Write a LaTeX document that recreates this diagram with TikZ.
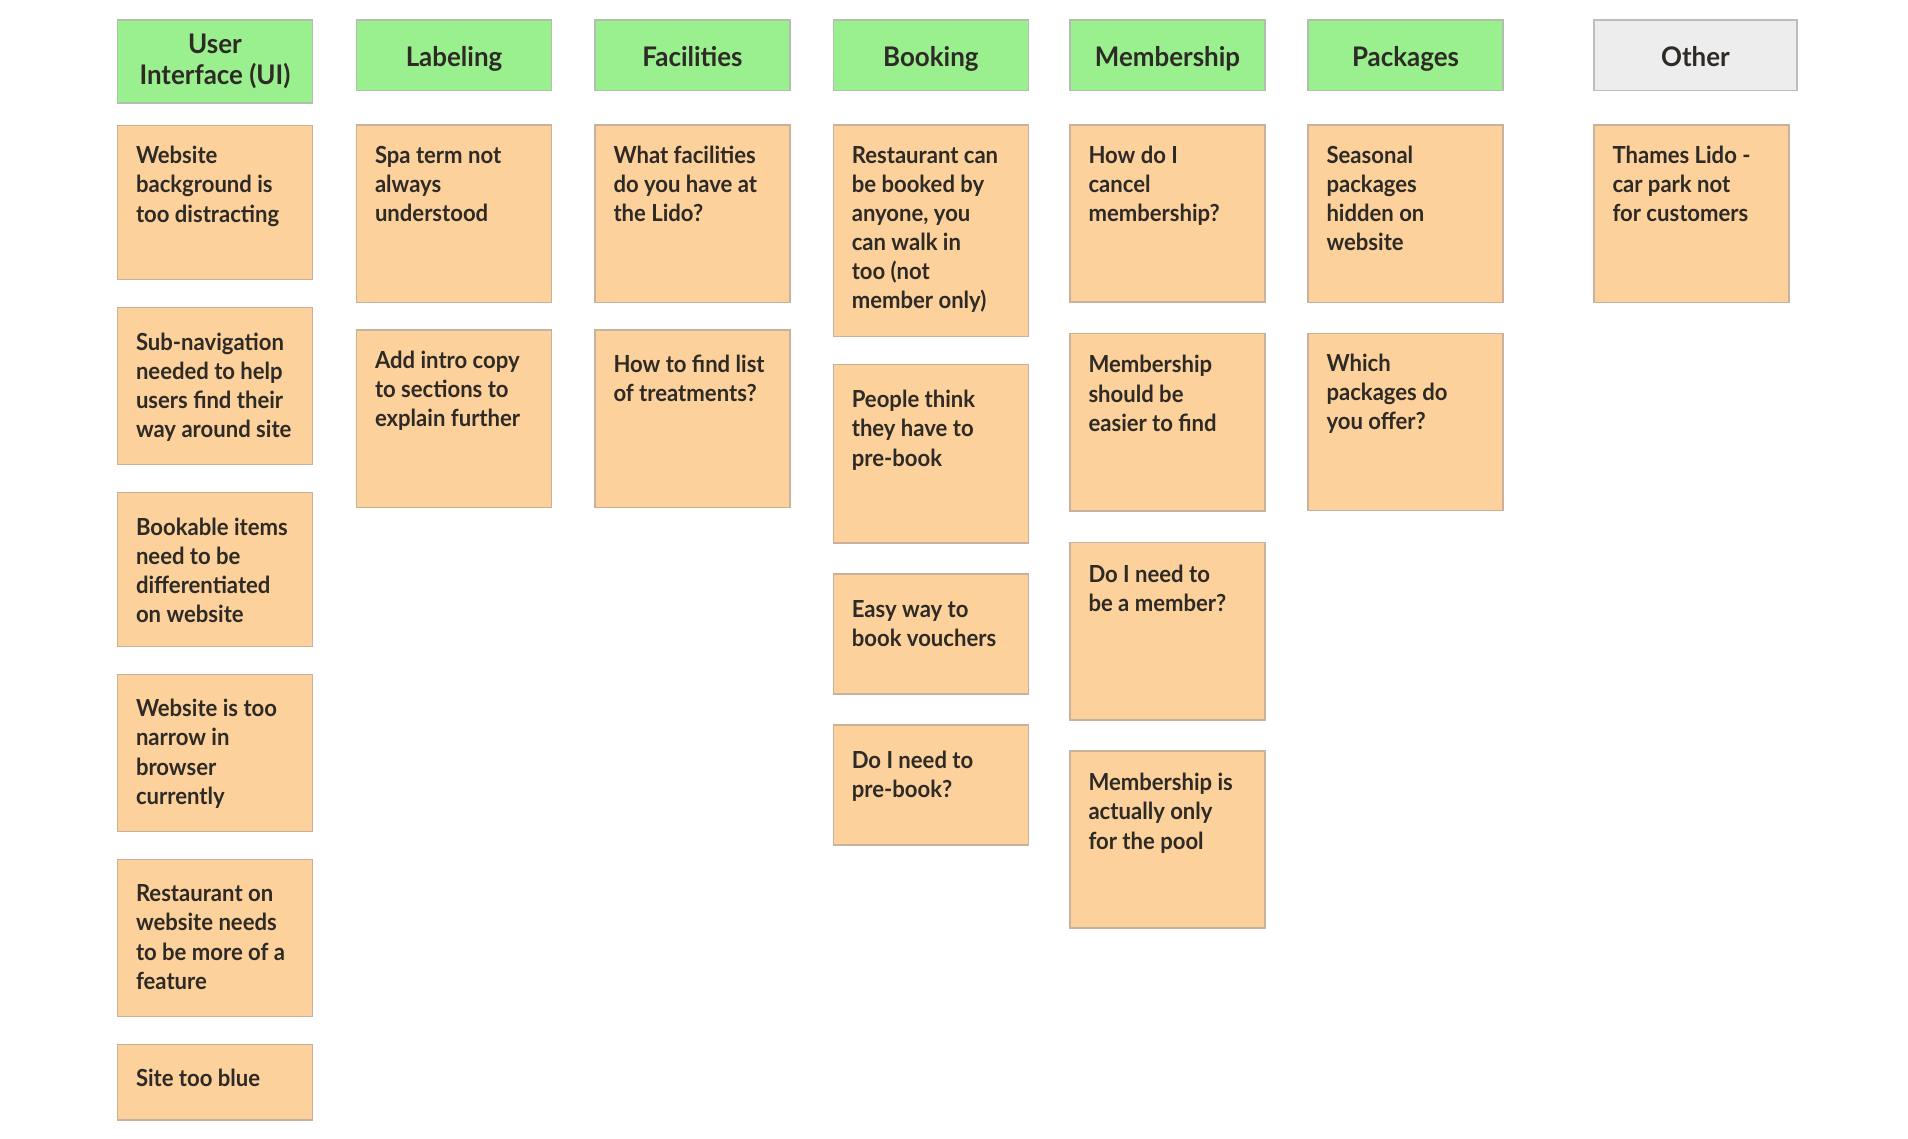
\documentclass[tikz,border=0pt]{standalone}
\usepackage{fontspec}
\setmainfont{Lato}
\newfontfamily\stkfont[FakeStretch=0.94]{Lato}
\newfontfamily\hdrfont[FakeStretch=0.96]{Lato}
\definecolor{hdrgreen}{HTML}{9AEF8E}
\definecolor{hdrborder}{HTML}{B0C0AC}
\definecolor{othfill}{HTML}{EDEDED}
\definecolor{othborder}{HTML}{BDBDBD}
\definecolor{stkfill}{HTML}{FDD19B}
\definecolor{stkborder}{HTML}{C9B19B}
\definecolor{txt}{HTML}{2E2A26}
\tikzset{
  stickybox/.style={draw=stkborder, fill=stkfill, line width=1.4pt, outer sep=0pt, inner sep=0pt, minimum width=195pt},
  stickytext/.style={inner sep=0pt, outer sep=0pt, text=txt, font=\stkfont\fontsize{23.5}{29.1}\selectfont\bfseries},
  hdrbox/.style={draw=hdrborder, fill=hdrgreen, line width=1.4pt, outer sep=0pt, inner sep=0pt, minimum width=195pt},
  othbox/.style={draw=othborder, fill=othfill, line width=1.6pt, outer sep=0pt, inner sep=0pt, minimum width=203pt},
  hdrtext/.style={inner sep=0pt, outer sep=0pt, text=txt, font=\hdrfont\fontsize{27}{31.5}\selectfont\bfseries}
}
% #1 name, #2 x, #3 top, #4 bottom, #5 first-baseline offset, #6 text
\newcommand{\stk}[6]{%
  \node[stickybox, minimum height={#4-#3}, anchor=north west] (#1) at (#2,#3) {};
  \node[stickytext, anchor=base west] (#1-t) at ([xshift=18.5pt,yshift=-#5pt]#1.north west) {\parbox[t]{172pt}{\raggedright #6}};
}
\newcommand{\hdr}[3]{%
  \node[hdrbox, minimum height=70.5pt, anchor=north west] (#1) at (#2,20) {};
  \node[hdrtext, anchor=base] (#1-t) at ([yshift=-46.5pt]#1.north) {#3};
}
\begin{document}
\begin{tikzpicture}[x=1pt, y=-1pt]
\path[fill=white, use as bounding box] (0,0) rectangle (1908,1139);

% headers
\node[hdrbox, minimum height=83pt, anchor=north west] (h-ui) at (117.5,20) {};
\node[hdrtext, anchor=base] (h-ui-t) at ([yshift=-33.5pt]h-ui.north) {\parbox[t]{190pt}{\centering User\\Interface (UI)}};
\hdr{h-lab}{356.5}{Labeling}
\hdr{h-fac}{595}{Facilities}
\hdr{h-book}{833.3}{Booking}
\hdr{h-mem}{1070}{Membership}
\hdr{h-pack}{1308}{Packages}
\node[othbox, minimum height=70.5pt, anchor=north west] (h-oth) at (1594,20) {};
\node[hdrtext, anchor=base] (h-oth-t) at ([yshift=-46.5pt]h-oth.north) {Other};

% User Interface
\stk{ui1}{117.5}{125.3}{279.7}{38.6}{Website\\background is\\too distracting}
\stk{ui2}{117.5}{307.3}{464.3}{43.2}{Sub-navigation\\needed to help\\users find their\\way around site}
\stk{ui3}{117.5}{492.3}{646.7}{42.7}{Bookable items\\need to be\\differentiated\\on website}
\stk{ui4}{117.5}{674.3}{831.7}{42.5}{Website is too\\narrow in\\browser\\currently}
\stk{ui5}{117.5}{859.3}{1016.7}{42.5}{Restaurant on\\website needs\\to be more of a\\feature}
\stk{ui6}{117.5}{1044.3}{1120}{42.5}{Site too blue}

% Labeling
\stk{lab1}{356.5}{125}{302.3}{38.4}{Spa term not\\always\\understood}
\stk{lab2}{356.5}{330}{507.3}{38.4}{Add intro copy\\to sections to\\explain further}

% Facilities
\stk{fac1}{595}{125}{302.3}{38.4}{What facilities\\do you have at\\the Lido?}
\stk{fac2}{595}{330}{507.3}{42.7}{How to find list\\of treatments?}

% Booking
\stk{book1}{833.3}{125}{336.5}{38.4}{Restaurant can\\be booked by\\anyone, you\\can walk in\\too (not\\member only)}
\stk{book2}{833.3}{364.5}{543}{43.3}{People think\\they have to\\pre-book}
\stk{book3}{833.3}{574}{694}{43.3}{Easy way to\\book vouchers}
\stk{book4}{833.3}{725}{845}{43.0}{Do I need to\\pre-book?}

% Membership
\stk{mem1}{1070}{125}{302}{38.4}{How do I\\cancel\\membership?}
\stk{mem2}{1070}{333.5}{511}{39.5}{Membership\\should be\\easier to find}
\stk{mem3}{1070}{542.5}{720}{39.5}{Do I need to\\be a member?}
\stk{mem4}{1070}{751}{928}{39.8}{Membership is\\actually only\\for the pool}

% Packages
\stk{pack1}{1308}{125}{302.5}{38.4}{Seasonal\\packages\\hidden on\\website}
\stk{pack2}{1308}{333.3}{510.7}{38.4}{Which\\packages do\\you offer?}

% Other
\stk{oth1}{1594}{125}{302.5}{38.4}{Thames Lido -\\car park not\\for customers}
\end{tikzpicture}
\end{document}
